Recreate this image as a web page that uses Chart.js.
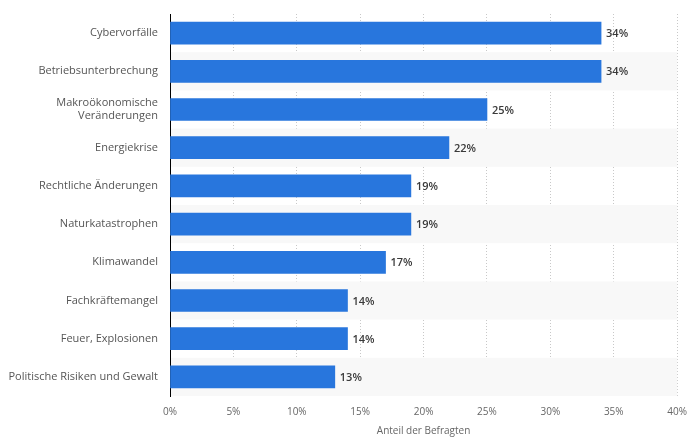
<!DOCTYPE html>
<html>
<head>
<meta charset="utf-8">
<script src="https://cdn.jsdelivr.net/npm/chart.js@4"></script>
<style>
  html, body { margin: 0; padding: 0; background: #fff; }
  #wrap { width: 697px; height: 444px; }
</style>
</head>
<body>
<div id="wrap"><canvas id="myChart"></canvas></div>
<script>
var categories = [
  "Cybervorfälle",
  "Betriebsunterbrechung",
  ["Makroökonomische", "Veränderungen"],
  "Energiekrise",
  "Rechtliche Änderungen",
  "Naturkatastrophen",
  "Klimawandel",
  "Fachkräftemangel",
  "Feuer, Explosionen",
  "Politische Risiken und Gewalt"
];
var shares = [34, 34, 25, 22, 19, 19, 17, 14, 14, 13];
var xTicks = [0, 5, 10, 15, 20, 25, 30, 35, 40];

// light bands behind every second row
var stripes = {
  id: "stripes",
  beforeDatasetsDraw: function (chart) {
    var ctx = chart.ctx, area = chart.chartArea, y = chart.scales.y;
    ctx.save();
    ctx.fillStyle = "#f8f8f8";
    for (var i = 1; i < categories.length; i += 2) {
      var c = y.getPixelForValue(i);
      var h = (area.bottom - area.top) / categories.length;
      ctx.fillRect(area.left + 1, c - h / 2, area.right - area.left - 1, h);
    }
    ctx.restore();
  }
};

// value labels at the end of the bars
var valueLabels = {
  id: "valueLabels",
  afterDatasetsDraw: function (chart) {
    var ctx = chart.ctx;
    var meta = chart.getDatasetMeta(0);
    ctx.save();
    ctx.font = "600 11px 'Open Sans'";
    ctx.fillStyle = "#3a3a3a";
    ctx.textBaseline = "middle";
    meta.data.forEach(function (bar, i) {
      ctx.fillText(shares[i] + "%", bar.x + 5, bar.y + 1);
    });
    ctx.restore();
  }
};

new Chart("myChart", {
  type: "bar",
  data: {
    labels: categories,
    datasets: [{
      data: shares,
      backgroundColor: "#2876dd",
      barThickness: 22
    }]
  },
  plugins: [stripes, valueLabels],
  options: {
    indexAxis: "y",
    responsive: true,
    maintainAspectRatio: false,
    animation: false,
    layout: { padding: { top: 14, right: 18, bottom: 7, left: 0 } },
    plugins: {
      legend: { display: false },
      tooltip: { enabled: false }
    },
    scales: {
      x: {
        min: 0,
        max: 40,
        afterBuildTicks: function (scale) {
          scale.ticks = xTicks.map(function (v) { return { value: v }; });
        },
        grid: {
          color: function (c) { return c.tick && c.tick.value === 0 ? "rgba(0,0,0,0)" : "#c8c8c8"; },
          drawTicks: false
        },
        border: { display: false, dash: [1, 2] },
        ticks: {
          padding: 10,
          color: "#666",
          font: { family: "'Open Sans'", size: 10 },
          callback: function (v) { return v + "%"; }
        },
        title: {
          display: true,
          text: "Anteil der Befragten",
          color: "#666",
          font: { family: "'Open Sans'", size: 10 },
          padding: { top: -3, bottom: 0 }
        }
      },
      y: {
        afterFit: function (scale) {
          scale.width = 170;
          scale.paddingTop = 0;
          scale.paddingBottom = 0;
        },
        grid: { display: false, drawTicks: false },
        border: { display: true, color: "#000", width: 1 },
        ticks: {
          padding: 12,
          color: "#555",
          font: { family: "'Open Sans'", size: 11 }
        }
      }
    }
  }
});
</script>
</body>
</html>
